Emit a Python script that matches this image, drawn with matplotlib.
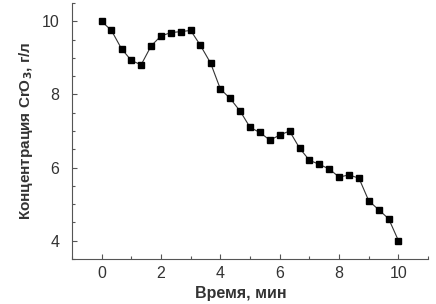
import matplotlib.pyplot as plt
from matplotlib.ticker import MultipleLocator

# data
time_min = [0, 0.33, 0.67, 1.0, 1.33, 1.67, 2.0, 2.33, 2.67, 3.0, 3.33,
            3.67, 4.0, 4.33, 4.67, 5.0, 5.33, 5.67, 6.0, 6.33, 6.67,
            7.0, 7.33, 7.67, 8.0, 8.33, 8.67, 9.0, 9.33, 9.67, 10.0]
conc_cro3 = [10.0, 9.75, 9.25, 8.93, 8.81, 9.33, 9.6, 9.69, 9.72, 9.75, 9.34,
             8.86, 8.15, 7.89, 7.54, 7.1, 6.96, 6.75, 6.89, 7.0, 6.53,
             6.2, 6.09, 5.96, 5.74, 5.8, 5.71, 5.09, 4.85, 4.6, 4.0]

plt.rcParams['font.family'] = ['Liberation Sans', 'DejaVu Sans']
axis_col = '#555555'
text_col = '#333333'

fig = plt.figure(figsize=(4.36, 3.04), dpi=100)
ax = fig.add_axes([0.165, 0.148, 0.817, 0.842])

ax.plot(time_min, conc_cro3, color='#333333', lw=0.8, marker='s',
        markersize=4.2, markerfacecolor='black', markeredgecolor='black')

ax.set_xlim(-1, 11)
ax.set_ylim(3.5, 10.5)
ax.xaxis.set_major_locator(MultipleLocator(2))
ax.xaxis.set_minor_locator(MultipleLocator(1))
ax.yaxis.set_major_locator(MultipleLocator(2))
ax.yaxis.set_minor_locator(MultipleLocator(0.5))

for side in ['top', 'right']:
    ax.spines[side].set_visible(False)
for side in ['left', 'bottom']:
    ax.spines[side].set_color(axis_col)
    ax.spines[side].set_linewidth(0.8)

ax.tick_params(which='both', direction='in', color=axis_col, width=0.8,
               labelsize=11.5, labelcolor=text_col)
ax.tick_params(which='major', length=3.5)
ax.tick_params(which='minor', length=2.5)
ax.tick_params(axis='x', pad=5)
ax.tick_params(axis='y', pad=9)

ax.set_xlabel('Время, мин', fontsize=11.5, fontweight='bold', color=text_col)
ax.xaxis.set_label_coords(0.475, -0.105)
ax.set_ylabel('Концентрация CrO$_\\mathbf{3}$, г/л', fontsize=11, fontweight='bold',
              color=text_col, labelpad=5)

fig.savefig('out.png', dpi=100)
